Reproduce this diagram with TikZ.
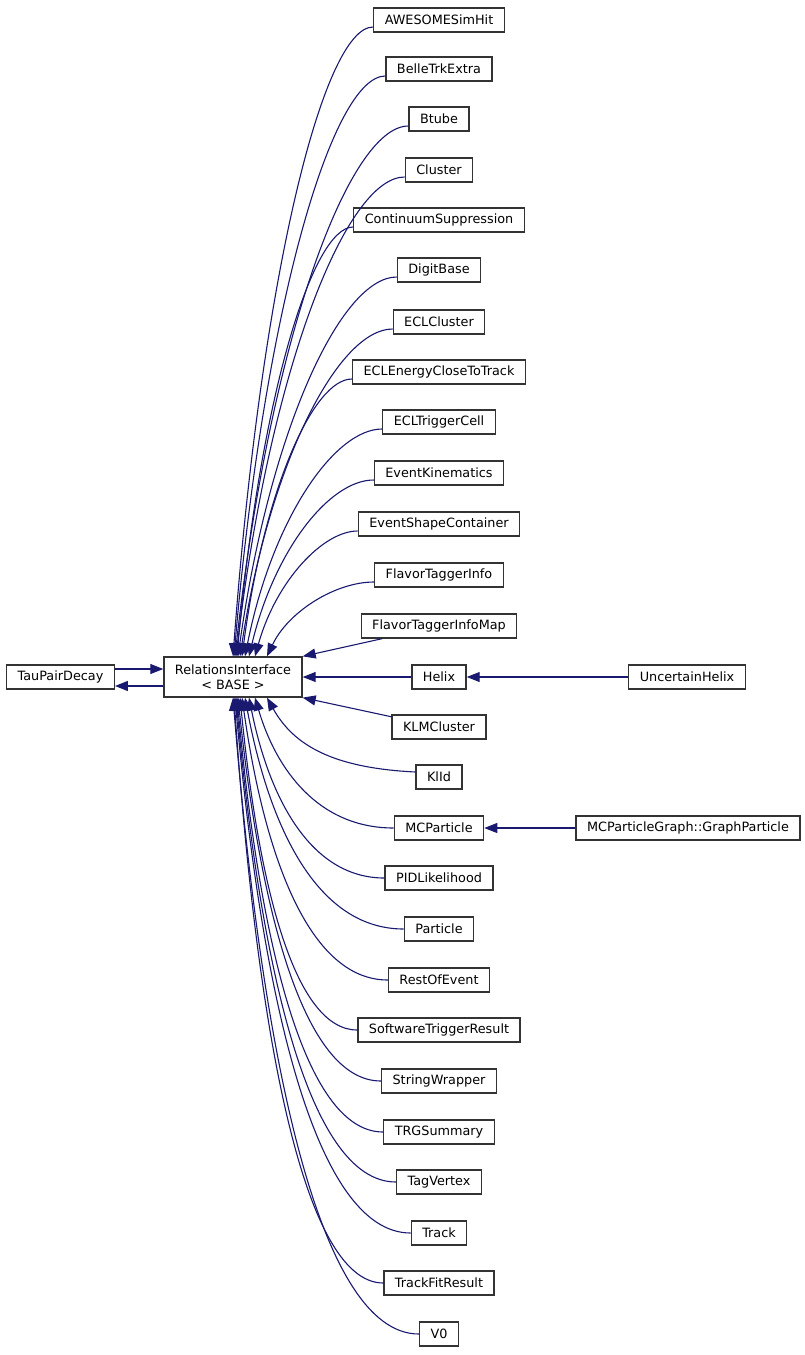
\documentclass[tikz,border=0pt]{standalone}
\usepackage{fontspec}
\usetikzlibrary{arrows.meta}
\newfontfamily\clsfont{DejaVu Sans}
\definecolor{edgeblue}{RGB}{25,25,112}
\tikzset{
  cls/.style={draw=black!80, line width=1.3pt, fill=white, minimum height=24pt,
    inner xsep=11pt, inner ysep=0pt, font=\clsfont\fontsize{12.8}{15}\selectfont},
  inh/.style={draw=edgeblue, line width=1.1pt, -{Triangle[length=13pt,width=10pt]}}
}
\begin{document}
\begin{tikzpicture}[x=1pt, y=-1pt]
      \useasboundingbox (0,0) rectangle (805,1355);
      \node[cls] (tau) at (60.5,677) {TauPairDecay};
      \node[cls, align=center, minimum height=40pt] (ri) at (233,677) {RelationsInterface\\< BASE >};
      \node[cls] (awesome) at (439,20) {AWESOMESimHit};
      \node[cls] (belle) at (439,69) {BelleTrkExtra};
      \node[cls] (btube) at (439,119) {Btube};
      \node[cls] (cluster) at (439,170) {Cluster};
      \node[cls] (contsup) at (439,220) {ContinuumSuppression};
      \node[cls] (digit) at (439,270) {DigitBase};
      \node[cls] (eclcl) at (439,322) {ECLCluster};
      \node[cls] (eclenergy) at (439,372) {ECLEnergyCloseToTrack};
      \node[cls] (ecltrg) at (439,422) {ECLTriggerCell};
      \node[cls] (evkin) at (439,473) {EventKinematics};
      \node[cls] (evshape) at (439,524) {EventShapeContainer};
      \node[cls] (fti) at (439,575) {FlavorTaggerInfo};
      \node[cls] (ftimap) at (439,626) {FlavorTaggerInfoMap};
      \node[cls] (helix) at (439,677) {Helix};
      \node[cls] (klm) at (439,727) {KLMCluster};
      \node[cls] (klid) at (439,777) {KlId};
      \node[cls] (mcp) at (439,828) {MCParticle};
      \node[cls] (pid) at (439,878) {PIDLikelihood};
      \node[cls] (particle) at (439,929) {Particle};
      \node[cls] (roe) at (439,980) {RestOfEvent};
      \node[cls] (swtrg) at (439,1030) {SoftwareTriggerResult};
      \node[cls] (strw) at (439,1081) {StringWrapper};
      \node[cls] (trgsum) at (439,1132) {TRGSummary};
      \node[cls] (tagv) at (439,1182) {TagVertex};
      \node[cls] (track) at (439,1233) {Track};
      \node[cls] (tfr) at (439,1283) {TrackFitResult};
      \node[cls] (vzero) at (439,1334) {V0};
      \node[cls] (uhelix) at (687,677) {UncertainHelix};
      \node[cls] (graphp) at (688,828) {MCParticleGraph::GraphParticle};
      \begin{scope}[inh]
        \draw ([yshift=8pt]tau.east) -- ([yshift=8pt]ri.west);
        \draw ([yshift=-9pt]ri.west) -- ([yshift=-9pt]tau.east);
        \draw ([yshift=-7pt]awesome.west) .. controls (323,27) and (261,279) .. (ri.north);
        \draw ([yshift=-7pt]belle.west) .. controls (332,76) and (264,308) .. ([xshift=1pt]ri.north);
        \draw ([yshift=-7pt]btube.west) .. controls (349,126) and (270,338) .. ([xshift=2pt]ri.north);
        \draw ([yshift=-7pt]cluster.west) .. controls (346,177) and (270,369) .. ([xshift=3pt]ri.north);
        \draw ([yshift=-7pt]contsup.west) .. controls (312,227) and (260,399) .. ([xshift=4pt]ri.north);
        \draw ([yshift=-7pt]digit.west) .. controls (341,277) and (270,429) .. ([xshift=5pt]ri.north);
        \draw ([yshift=-7pt]eclcl.west) .. controls (339,329) and (270,460) .. ([xshift=7pt]ri.north);
        \draw ([yshift=-7pt]eclenergy.west) .. controls (313,379) and (264,490) .. ([xshift=9pt]ri.north);
        \draw ([yshift=-7pt]ecltrg.west) .. controls (334,429) and (272,520) .. ([xshift=12pt]ri.north);
        \draw ([yshift=-7pt]evkin.west) .. controls (329,480) and (274,551) .. ([xshift=16pt]ri.north);
        \draw ([yshift=-7pt]evshape.west) .. controls (323,531) and (276,581) .. ([xshift=22pt]ri.north);
        \draw ([yshift=-7pt]fti.west) .. controls (335,582) and (288,612) .. ([xshift=34pt]ri.north);
        \draw (ftimap) -- (ri.north east);
        \draw (helix) -- (ri);
        \draw (klm) -- (ri.south east);
        \draw ([yshift=5pt]klid.west) .. controls (334,768) and (294,746) .. ([xshift=34pt]ri.south);
        \draw (mcp.west) .. controls (318,828) and (276,769) .. ([xshift=22pt]ri.south);
        \draw (pid.west) .. controls (310,878) and (269,797) .. ([xshift=16pt]ri.south);
        \draw (particle.west) .. controls (316,929) and (269,825) .. ([xshift=12pt]ri.south);
        \draw (roe.west) .. controls (308,980) and (264,853) .. ([xshift=9pt]ri.south);
        \draw (swtrg.west) .. controls (293,1030) and (258,880) .. ([xshift=7pt]ri.south);
        \draw (strw.west) .. controls (303,1081) and (260,908) .. ([xshift=5pt]ri.south);
        \draw (trgsum.west) .. controls (303,1132) and (259,936) .. ([xshift=4pt]ri.south);
        \draw (tagv.west) .. controls (308,1182) and (260,964) .. ([xshift=3pt]ri.south);
        \draw (track.west) .. controls (314,1233) and (261,992) .. ([xshift=2pt]ri.south);
        \draw (tfr.west) .. controls (301,1283) and (256,1019) .. ([xshift=1pt]ri.south);
        \draw (vzero.west) .. controls (317,1334) and (261,1047) .. (ri.south);
        \draw (uhelix) -- (helix);
        \draw (graphp) -- (mcp);
      \end{scope}
    \end{tikzpicture}
\end{document}
